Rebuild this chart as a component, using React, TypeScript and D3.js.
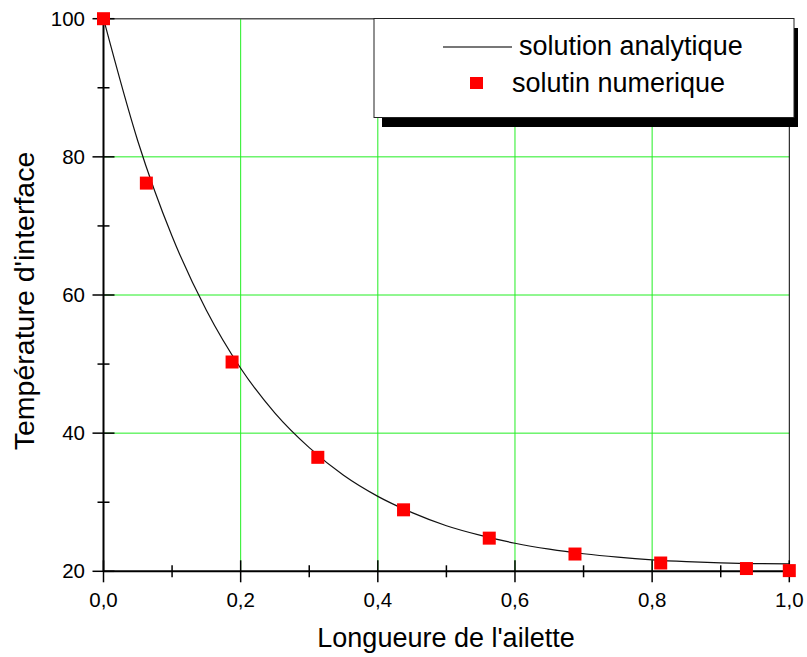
import React from "react";
import * as d3 from "d3";

// analytic solution
const analyticX = [0, 0.05, 0.1, 0.15, 0.2, 0.25, 0.3, 0.35, 0.4, 0.45, 0.5, 0.55, 0.6, 0.65, 0.7, 0.75, 0.8, 0.85, 0.9, 0.95, 1.0];
const analyticT = [100, 82.3, 68.5, 57.8, 49.4, 42.9, 37.9, 33.9, 30.85, 28.5, 26.6, 25.2, 24.06, 23.2, 22.54, 22.04, 21.66, 21.4, 21.22, 21.11, 21.08];

// numeric solution (squares)
const numericX = [0, 0.0625, 0.1875, 0.3125, 0.4375, 0.5625, 0.6875, 0.8125, 0.9375, 1.0];
const numericT = [100, 76.2, 50.3, 36.5, 28.9, 24.8, 22.5, 21.2, 20.4, 20.1];

const xTicks = [0, 0.2, 0.4, 0.6, 0.8, 1.0];
const xMinor = [0.1, 0.3, 0.5, 0.7, 0.9];
const yTicks = [20, 40, 60, 80, 100];
const yMinor = [30, 50, 70, 90];

const W = 807, H = 657;
const left = 103.5, right = 789.3, top = 18.7, bottom = 571.3;
const font = "'Liberation Sans', Arial, sans-serif";

export default function App() {
  const x = d3.scaleLinear().domain([0, 1]).range([left, right]);
  const y = d3.scaleLinear().domain([20, 100]).range([bottom, top]);
  const fmt = (v: number) => d3.format(".1f")(v).replace(".", ",");

  const line = d3.line<number>()
    .x((_, i) => x(analyticX[i]))
    .y((d) => y(d))
    .curve(d3.curveMonotoneX);

  const sq = 13;

  return (
    <svg width={W} height={H} style={{ position: "absolute", left: 0, top: 0, background: "#fff" }}>
      {/* grid */}
      {xTicks.slice(1, -1).map((t) => (
        <line key={"gx" + t} x1={x(t)} x2={x(t)} y1={top} y2={bottom} stroke="#22ee22" strokeWidth={1} />
      ))}
      {yTicks.slice(1, -1).map((t) => (
        <line key={"gy" + t} x1={left} x2={right} y1={y(t)} y2={y(t)} stroke="#22ee22" strokeWidth={1} />
      ))}

      {/* frame */}
      <line x1={left} x2={right} y1={top} y2={top} stroke="#555" strokeWidth={1.5} />
      <line x1={right} x2={right} y1={top} y2={bottom} stroke="#000" strokeWidth={1} />

      {/* axes */}
      <line x1={left} x2={right} y1={bottom} y2={bottom} stroke="#000" strokeWidth={2} />
      <line x1={left} x2={left} y1={top} y2={bottom} stroke="#000" strokeWidth={2} />

      {xTicks.map((t) => (
        <g key={"xt" + t}>
          <line x1={x(t)} x2={x(t)} y1={bottom - 11} y2={bottom + 11} stroke="#000" strokeWidth={1.5} />
          <text x={x(t)} y={607} textAnchor="middle" fontFamily={font} fontSize={20.5}>{fmt(t)}</text>
        </g>
      ))}
      {xMinor.map((t) => (
        <line key={"xm" + t} x1={x(t)} x2={x(t)} y1={bottom - 6} y2={bottom + 6} stroke="#000" strokeWidth={1.5} />
      ))}
      {yTicks.map((t) => (
        <g key={"yt" + t}>
          <line x1={left - 11} x2={left + 11} y1={y(t)} y2={y(t)} stroke="#000" strokeWidth={1.5} />
          <text x={85} y={y(t) + 7} textAnchor="end" fontFamily={font} fontSize={20.5}>{t}</text>
        </g>
      ))}
      {yMinor.map((t) => (
        <line key={"ym" + t} x1={left - 6} x2={left + 6} y1={y(t)} y2={y(t)} stroke="#000" strokeWidth={1.5} />
      ))}

      {/* analytic curve */}
      <path d={line(analyticT) || ""} fill="none" stroke="#111" strokeWidth={1.2} />

      {/* numeric points */}
      {numericT.map((v, i) => (
        <rect key={"p" + i} x={x(numericX[i]) - sq / 2} y={y(v) - sq / 2} width={sq} height={sq} fill="#ff0000" />
      ))}

      {/* legend */}
      <rect x={382} y={28} width={416} height={99} fill="#000" />
      <rect x={374} y={18.5} width={420} height={99} fill="#fff" stroke="#222" strokeWidth={1} />
      <line x1={443} x2={512} y1={47} y2={47} stroke="#777" strokeWidth={2} />
      <text x={519} y={55} fontFamily={font} fontSize={27}>solution analytique</text>
      <rect x={470} y={77} width={13} height={12} fill="#ff0000" />
      <text x={512} y={92} fontFamily={font} fontSize={27}>solutin numerique</text>

      {/* axis titles */}
      <text x={446} y={647} textAnchor="middle" fontFamily={font} fontSize={27}>Longueure de l'ailette</text>
      <text transform={`translate(34,301) rotate(-90)`} textAnchor="middle" fontFamily={font} fontSize={28.5}>Température d'interface</text>
    </svg>
  );
}
